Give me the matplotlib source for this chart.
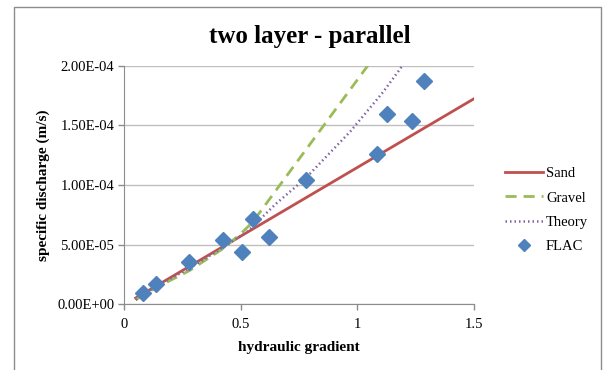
import matplotlib.pyplot as plt
from matplotlib.patches import Rectangle
from matplotlib.ticker import FormatStrFormatter
import numpy as np

# hydraulic gradient vs specific discharge
sand_i = [0.05, 1.5]
sand_q = [5.0e-6, 1.725e-4]

gravel_i = [0.05, 0.13, 0.28, 0.42, 0.50, 0.55, 1.10]
gravel_q = [3.5e-6, 13e-6, 28e-6, 46e-6, 59e-6, 68.5e-6, 2.15e-4]

theory_i = [0.05, 0.13, 0.28, 0.42, 0.53, 0.65, 0.78, 0.97, 1.11, 1.20]
theory_q = [3.5e-6, 14e-6, 30e-6, 47e-6, 61e-6, 84e-6, 106e-6, 145e-6, 178e-6, 202e-6]

flac_i = [0.08, 0.137, 0.28, 0.423, 0.504, 0.554, 0.621, 0.78, 1.086, 1.129, 1.236, 1.286]
flac_q = [9.0e-6, 16.5e-6, 35e-6, 53.5e-6, 44e-6, 71.5e-6, 56.6e-6, 104e-6,
          126e-6, 160e-6, 154e-6, 187e-6]

plt.rcParams['font.family'] = ['Liberation Serif', 'DejaVu Serif']

fig = plt.figure(figsize=(6.05, 3.70), dpi=100)
ax = fig.add_axes([124 / 605, 1 - 304 / 370, 350 / 605, 238 / 370])

# outer chart border
fig.patches.append(Rectangle((14 / 605, -0.1), 587 / 605, 1.1 - 7 / 370,
                             transform=fig.transFigure, fill=False,
                             edgecolor='#8c8c8c', linewidth=1.0))

ax.plot(sand_i, sand_q, color='#C0504D', lw=2.0, label='Sand', zorder=3)
ax.plot(gravel_i, gravel_q, color='#9BBB59', lw=2.0, dashes=(4, 2.5),
        label='Gravel', zorder=3)
ax.plot(theory_i, theory_q, color='#8064A2', lw=1.8, dashes=(0.6, 1.2),
        label='Theory', zorder=3)
ax.plot(flac_i, flac_q, ls='none', marker='D', ms=8, color='#4F81BD',
        label='FLAC', zorder=4)

ax.set_xlim(0, 1.5)
ax.set_ylim(0, 2.0e-4)
ax.set_xticks([0, 0.5, 1, 1.5])
ax.set_xticklabels(['0', '0.5', '1', '1.5'])
ax.set_yticks(np.arange(0, 2.01e-4, 5e-5))
ax.yaxis.set_major_formatter(FormatStrFormatter('%.2E'))
ax.tick_params(labelsize=10.5, color='#8c8c8c', length=4, width=1)
ax.tick_params(axis='x', pad=6)
ax.tick_params(axis='y', pad=3)

ax.grid(axis='y', color='#bfbfbf', lw=1.0)
ax.set_axisbelow(True)
for s in ['top', 'right']:
    ax.spines[s].set_visible(False)
for s in ['left', 'bottom']:
    ax.spines[s].set_color('#8c8c8c')

ax.set_xlabel('hydraulic gradient', fontsize=11, fontweight='bold', labelpad=7)
ax.set_ylabel('specific discharge (m/s)', fontsize=11, fontweight='bold', labelpad=5)
fig.text(0.512, 1 - 36 / 370, 'two layer - parallel', fontsize=18,
         fontweight='bold', ha='center', va='center')

leg = ax.legend(loc='center left', bbox_to_anchor=(492 / 605, 1 - 210 / 370),
                bbox_transform=fig.transFigure, frameon=False, fontsize=10.5,
                handlelength=2.6, handletextpad=0.2, labelspacing=0.75,
                markerscale=0.8)

fig.savefig('out.png', dpi=100)
